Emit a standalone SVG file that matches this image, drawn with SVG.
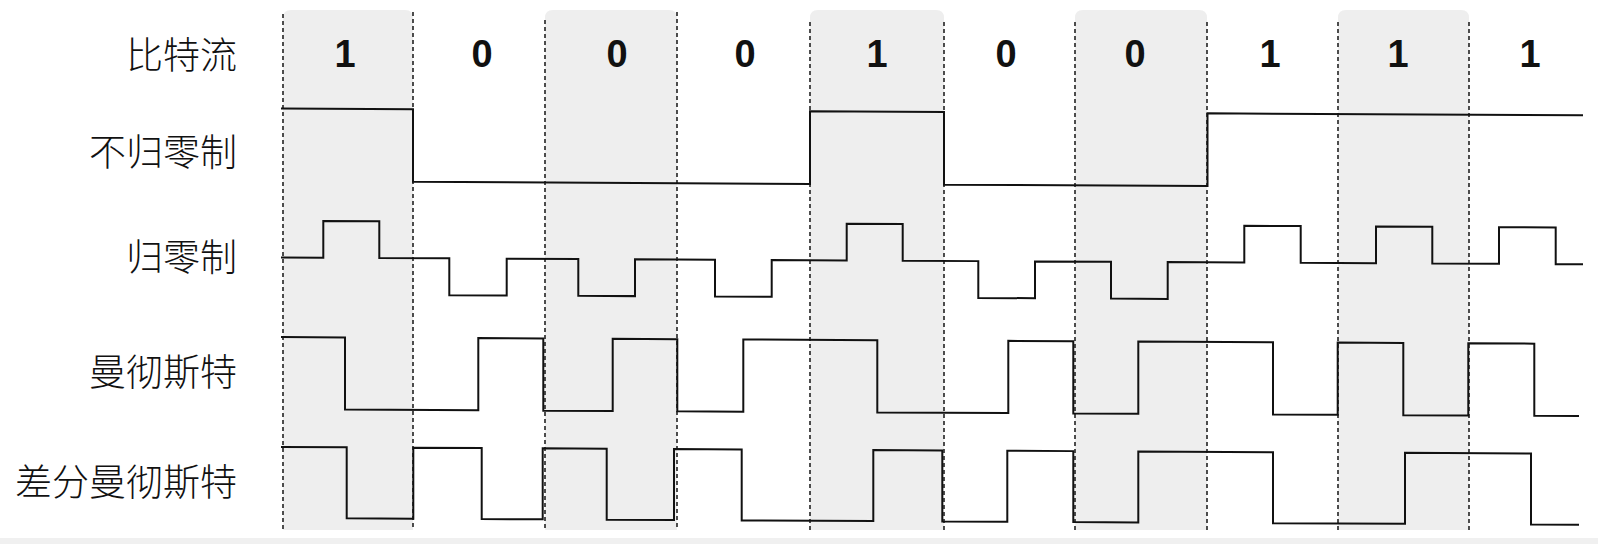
<svg xmlns="http://www.w3.org/2000/svg" width="1598" height="544" viewBox="0 0 1598 544">
  <style>
    .shade { fill: #eeeeee; }
    .grid { stroke: #222; stroke-width: 1.6; stroke-dasharray: 4 3; fill: none; }
    .wave { stroke: #111; stroke-width: 2; fill: none; stroke-linejoin: miter; stroke-linecap: square; }
    .bit { font-family: "Liberation Sans", Arial, sans-serif; font-weight: bold; font-size: 38px; fill: #111; text-anchor: middle; }
    .lbl { font-family: "Noto Sans CJK SC", "Noto Sans CJK TC", sans-serif; font-weight: 300; font-size: 37px; fill: #111; text-anchor: end; dominant-baseline: central; }
  </style>
  <rect x="0" y="0" width="1598" height="544" fill="#ffffff"/>
  <rect x="0" y="538" width="1598" height="6" fill="#f0f0f0"/>

  <g id="shading">
    <path class="shade" d="M283 530 V18 Q283 10 291 10 H405 Q413 10 413 18 V530 Z"/>
    <path class="shade" d="M545 530 V18 Q545 10 553 10 H669 Q677 10 677 18 V530 Z"/>
    <path class="shade" d="M810 530 V18 Q810 10 818 10 H936 Q944 10 944 18 V530 Z"/>
    <path class="shade" d="M1075 530 V18 Q1075 10 1083 10 H1199 Q1207 10 1207 18 V530 Z"/>
    <path class="shade" d="M1338 530 V18 Q1338 10 1346 10 H1461 Q1469 10 1469 18 V530 Z"/>
  </g>

  <g id="grid">
    <line class="grid" x1="283" y1="14" x2="283" y2="530"/>
    <line class="grid" x1="413" y1="12" x2="413" y2="530"/>
    <line class="grid" x1="545" y1="20" x2="545" y2="530"/>
    <line class="grid" x1="677" y1="12" x2="677" y2="530"/>
    <line class="grid" x1="810" y1="22" x2="810" y2="532"/>
    <line class="grid" x1="944" y1="22" x2="944" y2="532"/>
    <line class="grid" x1="1075" y1="22" x2="1075" y2="532"/>
    <line class="grid" x1="1207" y1="22" x2="1207" y2="532"/>
    <line class="grid" x1="1338" y1="22" x2="1338" y2="532"/>
    <line class="grid" x1="1469" y1="22" x2="1469" y2="532"/>
  </g>

  <g id="labels">
    <text class="lbl" x="237" y="53">比特流</text>
    <text class="lbl" x="237" y="150">不归零制</text>
    <text class="lbl" x="237" y="255">归零制</text>
    <text class="lbl" x="237" y="370">曼彻斯特</text>
    <text class="lbl" x="237" y="480">差分曼彻斯特</text>
  </g>

  <g id="bits">
    <text class="bit" x="345" y="67">1</text>
    <text class="bit" x="482" y="67">0</text>
    <text class="bit" x="617" y="67">0</text>
    <text class="bit" x="745" y="67">0</text>
    <text class="bit" x="877" y="67">1</text>
    <text class="bit" x="1006" y="67">0</text>
    <text class="bit" x="1135" y="67">0</text>
    <text class="bit" x="1270" y="67">1</text>
    <text class="bit" x="1398" y="67">1</text>
    <text class="bit" x="1530" y="67">1</text>
  </g>

  <g id="waveforms" transform="skewY(0.3)">
    <path id="nrz" class="wave" d="M282 107 H413 V179.7 H810 V107 H944 V179.7 H1207.5 V107 H1582"/>
    <path id="rz" class="wave" d="M282 256 H323.3 V219.3 H379.3 V256 H449.3 V292.8 H506.7 V256 H578.3 V292.8 H635 V256 H715 V292.8 H771.7 V256 H846.7 V219.3 H902.7 V256 H978.3 V292.8 H1035 V256 H1111 V292.8 H1167.7 V256 H1244.3 V219.3 H1300.7 V256 H1376 V219.3 H1432.3 V256 H1499 V219.3 H1555.7 V256 H1582"/>
    <path id="manchester" class="wave" d="M282 335.6 H345 V407.8 H478.3 V335.6 H543.3 V407.8 H612.7 V335.6 H677.3 V407.8 H743.3 V335.6 H877.3 V407.8 H1008.3 V335.6 H1073.3 V407.8 H1138.3 V335.6 H1273 V407.8 H1337.7 V335.6 H1403.3 V407.8 H1468.3 V335.6 H1534.3 V407.8 H1578"/>
    <path id="diff-manchester" class="wave" d="M282 445.5 H346.7 V516.5 H413.3 V445.5 H481.7 V516.5 H542.7 V445.5 H606.7 V516.5 H674 V445.5 H741.7 V516.5 H873.3 V445.5 H942.3 V516.5 H1007.3 V445.5 H1073.3 V516.5 H1138.3 V445.5 H1273 V516.5 H1405 V445.5 H1531 V516.5 H1578"/>
  </g>
</svg>
